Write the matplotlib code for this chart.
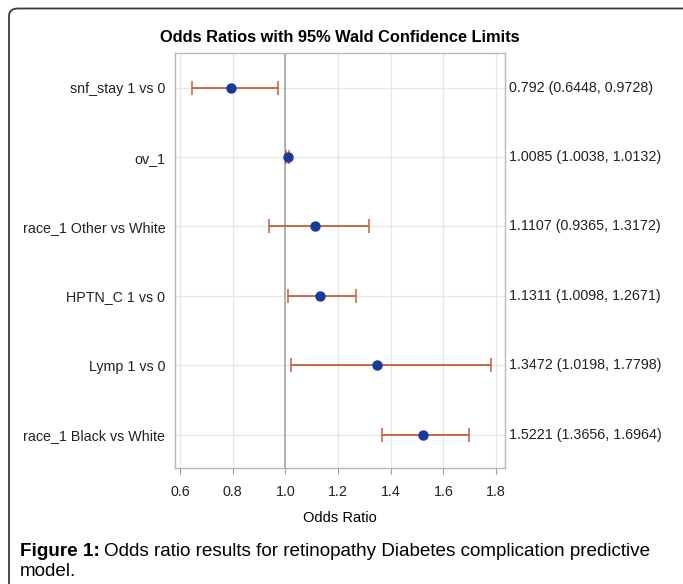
import matplotlib
matplotlib.use("Agg")
import matplotlib.pyplot as plt
from matplotlib.patches import FancyBboxPatch

labels = ["snf_stay 1 vs 0", "ov_1", "race_1 Other vs White", "HPTN_C 1 vs 0",
          "Lymp 1 vs 0", "race_1 Black vs White"]
estimates = [0.792, 1.0085, 1.1107, 1.1311, 1.3472, 1.5221]
lower = [0.6448, 1.0038, 0.9365, 1.0098, 1.0198, 1.3656]
upper = [0.9728, 1.0132, 1.3172, 1.2671, 1.7798, 1.6964]
right_labels = ["0.792 (0.6448, 0.9728)", "1.0085 (1.0038, 1.0132)",
                "1.1107 (0.9365, 1.3172)", "1.1311 (1.0098, 1.2671)",
                "1.3472 (1.0198, 1.7798)", "1.5221 (1.3656, 1.6964)"]
xticks = [0.6, 0.8, 1.0, 1.2, 1.4, 1.6, 1.8]

plt.rcParams['font.family'] = ['Liberation Sans', 'DejaVu Sans']

fig = plt.figure(figsize=(6.83, 5.84), dpi=100)
W, H = 683, 584
ax = fig.add_axes([175 / W, 1 - 468 / H, (505 - 175) / W, (468 - 53) / H])

ypos = list(range(len(labels)))
xerr = [[e - l for e, l in zip(estimates, lower)], [u - e for e, u in zip(estimates, upper)]]
ax.errorbar(estimates, ypos, xerr=xerr, fmt='none', ecolor='#c0603a', elinewidth=1.3,
            capsize=5, capthick=1.1, zorder=3)
ax.plot(estimates, ypos, 'o', color='#173b9a', markersize=6.5, zorder=4)
ax.axvline(1.0, color='#a0a0a0', lw=1.1, zorder=2)

ax.set_xlim(0.581, 1.834)
ax.set_ylim(5.48, -0.5)
ax.set_xticks(xticks)
ax.set_xticklabels([f"{t:.1f}" for t in xticks])
ax.set_yticks(ypos)
ax.set_yticklabels(labels)
ax.tick_params(axis='both', labelsize=10.3, colors='#333333', length=4, width=0.8)
ax.tick_params(axis='y', length=0, pad=7)
ax.tick_params(axis='x', color='#999999', labelcolor='#222222', pad=8)
ax.tick_params(axis='y', labelcolor='#222222')
ax.grid(True, color='#e6e6e6', lw=0.9, zorder=0)
ax.set_axisbelow(True)
for s in ax.spines.values():
    s.set_color('#b8b8b8')
    s.set_linewidth(1.0)
ax.set_xlabel("Odds Ratio", fontsize=10.5, labelpad=9)
ax.set_title("Odds Ratios with 95% Wald Confidence Limits", fontsize=11.8,
             fontweight='bold', pad=8)

for y, t in zip(ypos, right_labels):
    ax.annotate(t, xy=(1.0, y), xycoords=('axes fraction', 'data'), xytext=(3, 0),
                textcoords='offset points', va='center', ha='left', fontsize=10.3,
                color='#222222')

# frame: only top and left edges fall inside the image
border = FancyBboxPatch((9 / W, -0.05), (W + 20) / W, 1.05 - 8.5 / H,
                        boxstyle="round,pad=0,rounding_size=0.013",
                        transform=fig.transFigure, fill=False, ec='#3a3a3a', lw=1.3)
fig.patches.append(border)

cap_size = 13.6
t1 = fig.text(20 / W, 1 - 551 / H, "Figure 1:", fontsize=cap_size, fontweight='bold',
              va='center', ha='left')
fig.canvas.draw()
bb = t1.get_window_extent(renderer=fig.canvas.get_renderer())
fig.text((bb.x1 + 4) / W, 1 - 551 / H,
         "Odds ratio results for retinopathy Diabetes complication predictive",
         fontsize=cap_size, va='center', ha='left')
fig.text(20 / W, 1 - 571 / H, "model.", fontsize=cap_size, va='center', ha='left')

fig.savefig("out.png", dpi=100)
